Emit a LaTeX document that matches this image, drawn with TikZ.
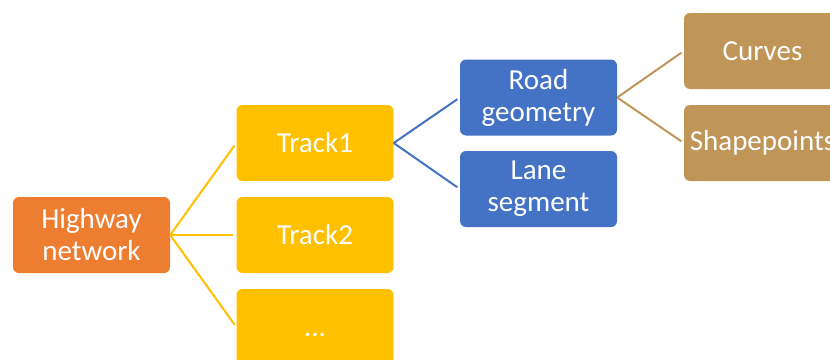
\documentclass[tikz,border=0pt]{standalone}
\usepackage{fontspec}
\setmainfont{Carlito}
\definecolor{corange}{HTML}{ED7D31}
\definecolor{cyellow}{HTML}{FFC000}
\definecolor{cblue}{HTML}{4472C4}
\definecolor{ctan}{HTML}{C09658}
\tikzset{
  box/.style={rounded corners=6pt, minimum width=157pt, minimum height=76pt, inner sep=0pt,
    text=white, align=center, font=\fontsize{29}{32}\selectfont},
  link/.style={line width=2pt, shorten >=3pt}
}
\begin{document}
\begin{tikzpicture}[x=1pt,y=-1pt]
\useasboundingbox (0,0) rectangle (830,359);
\clip (0,0) rectangle (830,359);
\node[box, fill=corange] (hw) at (91.5,235) {Highway\\network};
\node[box, fill=cyellow] (t1) at (315,143) {Track1};
\node[box, fill=cyellow] (t2) at (315,235) {Track2};
\node[box, fill=cyellow] (t3) at (315,327) {\vphantom{T}...};
\node[box, fill=cblue] (rg) at (538.5,97.5) {Road\\geometry};
\node[box, fill=cblue] (ls) at (538.5,189) {Lane\\segment};
\node[box, fill=ctan] (cv) at (762.5,51) {Curves};
\node[box, fill=ctan] (sp) at (762.5,143) {Shapepoints};
\draw[link, cyellow] (hw.east) -- (t1.west);
\draw[link, cyellow] (hw.east) -- (t2.west);
\draw[link, cyellow] (hw.east) -- (t3.west);
\draw[link, cblue] (t1.east) -- (rg.west);
\draw[link, cblue] (t1.east) -- (ls.west);
\draw[link, ctan] (rg.east) -- (cv.west);
\draw[link, ctan] (rg.east) -- (sp.west);
\end{tikzpicture}
\end{document}
